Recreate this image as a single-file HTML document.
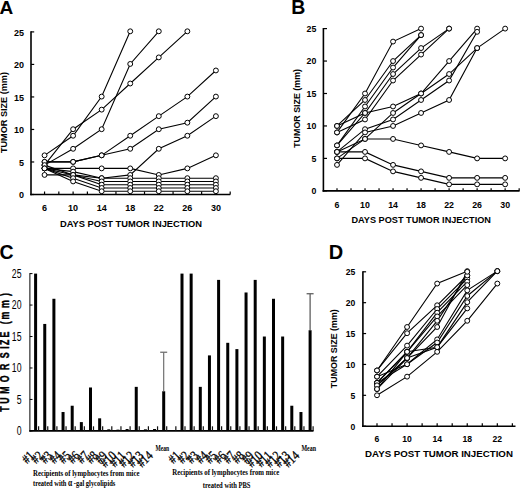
<!DOCTYPE html>
<html><head><meta charset="utf-8"><style>
html,body{margin:0;padding:0;background:#fff;width:520px;height:490px;overflow:hidden;}
svg{display:block;}
</style></head><body>
<svg width="520" height="490" viewBox="0 0 520 490">
<rect width="520" height="490" fill="#fff"/>
<text x="-0.60" y="13.60" font-size="19" text-anchor="start" font-weight="bold" font-family='"Liberation Sans", sans-serif' >A</text>
<text x="291.30" y="13.80" font-size="19.5" text-anchor="start" font-weight="bold" font-family='"Liberation Sans", sans-serif' >B</text>
<text x="-0.60" y="259.40" font-size="19.5" text-anchor="start" font-weight="bold" font-family='"Liberation Sans", sans-serif' >C</text>
<text x="328.70" y="258.90" font-size="20" text-anchor="start" font-weight="bold" font-family='"Liberation Sans", sans-serif' >D</text>
<line x1="31.00" y1="31.30" x2="31.00" y2="195.30" stroke="#000" stroke-width="1.6"/>
<line x1="30.20" y1="194.50" x2="230.30" y2="194.50" stroke="#000" stroke-width="1.6"/>
<line x1="31.00" y1="194.50" x2="34.20" y2="194.50" stroke="#000" stroke-width="1.2"/>
<text x="23.90" y="198.34" font-size="9" text-anchor="end" font-weight="bold" font-family='"Liberation Sans", sans-serif' >0</text>
<line x1="31.00" y1="161.98" x2="34.20" y2="161.98" stroke="#000" stroke-width="1.2"/>
<text x="23.90" y="165.82" font-size="9" text-anchor="end" font-weight="bold" font-family='"Liberation Sans", sans-serif' >5</text>
<line x1="31.00" y1="129.46" x2="34.20" y2="129.46" stroke="#000" stroke-width="1.2"/>
<text x="23.90" y="133.30" font-size="9" text-anchor="end" font-weight="bold" font-family='"Liberation Sans", sans-serif' >10</text>
<line x1="31.00" y1="96.94" x2="34.20" y2="96.94" stroke="#000" stroke-width="1.2"/>
<text x="23.90" y="100.78" font-size="9" text-anchor="end" font-weight="bold" font-family='"Liberation Sans", sans-serif' >15</text>
<line x1="31.00" y1="64.42" x2="34.20" y2="64.42" stroke="#000" stroke-width="1.2"/>
<text x="23.90" y="68.26" font-size="9" text-anchor="end" font-weight="bold" font-family='"Liberation Sans", sans-serif' >20</text>
<line x1="31.00" y1="31.90" x2="34.20" y2="31.90" stroke="#000" stroke-width="1.2"/>
<text x="23.90" y="35.74" font-size="9" text-anchor="end" font-weight="bold" font-family='"Liberation Sans", sans-serif' >25</text>
<line x1="44.55" y1="194.50" x2="44.55" y2="191.50" stroke="#000" stroke-width="1.2"/>
<line x1="58.83" y1="194.50" x2="58.83" y2="191.50" stroke="#000" stroke-width="1.2"/>
<line x1="73.11" y1="194.50" x2="73.11" y2="191.50" stroke="#000" stroke-width="1.2"/>
<line x1="87.39" y1="194.50" x2="87.39" y2="191.50" stroke="#000" stroke-width="1.2"/>
<line x1="101.67" y1="194.50" x2="101.67" y2="191.50" stroke="#000" stroke-width="1.2"/>
<line x1="115.95" y1="194.50" x2="115.95" y2="191.50" stroke="#000" stroke-width="1.2"/>
<line x1="130.23" y1="194.50" x2="130.23" y2="191.50" stroke="#000" stroke-width="1.2"/>
<line x1="144.51" y1="194.50" x2="144.51" y2="191.50" stroke="#000" stroke-width="1.2"/>
<line x1="158.79" y1="194.50" x2="158.79" y2="191.50" stroke="#000" stroke-width="1.2"/>
<line x1="173.07" y1="194.50" x2="173.07" y2="191.50" stroke="#000" stroke-width="1.2"/>
<line x1="187.35" y1="194.50" x2="187.35" y2="191.50" stroke="#000" stroke-width="1.2"/>
<line x1="201.63" y1="194.50" x2="201.63" y2="191.50" stroke="#000" stroke-width="1.2"/>
<line x1="215.91" y1="194.50" x2="215.91" y2="191.50" stroke="#000" stroke-width="1.2"/>
<line x1="230.19" y1="194.50" x2="230.19" y2="191.50" stroke="#000" stroke-width="1.2"/>
<text x="44.55" y="211.40" font-size="9" text-anchor="middle" font-weight="bold" font-family='"Liberation Sans", sans-serif' >6</text>
<text x="73.11" y="211.40" font-size="9" text-anchor="middle" font-weight="bold" font-family='"Liberation Sans", sans-serif' >10</text>
<text x="101.67" y="211.40" font-size="9" text-anchor="middle" font-weight="bold" font-family='"Liberation Sans", sans-serif' >14</text>
<text x="130.23" y="211.40" font-size="9" text-anchor="middle" font-weight="bold" font-family='"Liberation Sans", sans-serif' >18</text>
<text x="158.79" y="211.40" font-size="9" text-anchor="middle" font-weight="bold" font-family='"Liberation Sans", sans-serif' >22</text>
<text x="187.35" y="211.40" font-size="9" text-anchor="middle" font-weight="bold" font-family='"Liberation Sans", sans-serif' >26</text>
<text x="215.91" y="211.40" font-size="9" text-anchor="middle" font-weight="bold" font-family='"Liberation Sans", sans-serif' >30</text>
<text x="59.90" y="227.40" font-size="9.8" font-weight="bold" font-family='"Liberation Sans", sans-serif' textLength="142.2" lengthAdjust="spacingAndGlyphs">DAYS POST TUMOR INJECTION</text>
<text transform="translate(7.00,112.55) rotate(-90)" font-size="9.15" text-anchor="middle" font-weight="bold" font-family='"Liberation Sans", sans-serif'>TUMOR SIZE (mm)</text>
<polyline fill="none" stroke="#000" stroke-width="1.1" points="44.55,165.12 73.11,129.22 101.67,109.64 130.23,83.52 158.79,57.41 187.35,31.30"/>
<polyline fill="none" stroke="#000" stroke-width="1.1" points="44.55,155.33 73.11,135.75 101.67,96.58 130.23,31.30"/>
<polyline fill="none" stroke="#000" stroke-width="1.1" points="44.55,165.12 73.11,148.80 101.67,129.22 130.23,63.94 158.79,31.30"/>
<polyline fill="none" stroke="#000" stroke-width="1.1" points="44.55,161.86 73.11,161.86 101.67,155.33 130.23,135.75 158.79,116.16 187.35,96.58 215.91,70.47"/>
<polyline fill="none" stroke="#000" stroke-width="1.1" points="44.55,161.86 73.11,161.86 101.67,155.33 130.23,148.80 158.79,129.22 187.35,122.69 215.91,96.58"/>
<polyline fill="none" stroke="#000" stroke-width="1.1" points="44.55,168.39 73.11,168.39 101.67,168.39 130.23,168.39 158.79,174.92 187.35,168.39 215.91,155.33"/>
<polyline fill="none" stroke="#000" stroke-width="1.1" points="44.55,168.39 73.11,174.92 101.67,178.18 130.23,174.92 158.79,148.80 187.35,135.75 215.91,116.16"/>
<polyline fill="none" stroke="#000" stroke-width="1.1" points="44.55,168.39 73.11,171.65 101.67,178.18 130.23,178.18 158.79,178.18 187.35,178.18 215.91,178.18"/>
<polyline fill="none" stroke="#000" stroke-width="1.1" points="44.55,165.12 73.11,174.92 101.67,181.44 130.23,181.44 158.79,181.44 187.35,181.44 215.91,181.44"/>
<polyline fill="none" stroke="#000" stroke-width="1.1" points="44.55,174.92 73.11,174.92 101.67,184.71 130.23,184.71 158.79,184.71 187.35,184.71 215.91,184.71"/>
<polyline fill="none" stroke="#000" stroke-width="1.1" points="44.55,168.39 73.11,178.18 101.67,187.97 130.23,187.97 158.79,187.97 187.35,187.97 215.91,187.97"/>
<polyline fill="none" stroke="#000" stroke-width="1.1" points="44.55,168.39 73.11,181.44 101.67,191.24 130.23,191.24 158.79,191.24 187.35,191.24 215.91,191.24"/>
<circle cx="44.55" cy="165.12" r="2.45" fill="#fff" stroke="#000" stroke-width="1"/>
<circle cx="73.11" cy="129.22" r="2.45" fill="#fff" stroke="#000" stroke-width="1"/>
<circle cx="101.67" cy="109.64" r="2.45" fill="#fff" stroke="#000" stroke-width="1"/>
<circle cx="130.23" cy="83.52" r="2.45" fill="#fff" stroke="#000" stroke-width="1"/>
<circle cx="158.79" cy="57.41" r="2.45" fill="#fff" stroke="#000" stroke-width="1"/>
<circle cx="187.35" cy="31.30" r="2.45" fill="#fff" stroke="#000" stroke-width="1"/>
<circle cx="44.55" cy="155.33" r="2.45" fill="#fff" stroke="#000" stroke-width="1"/>
<circle cx="73.11" cy="135.75" r="2.45" fill="#fff" stroke="#000" stroke-width="1"/>
<circle cx="101.67" cy="96.58" r="2.45" fill="#fff" stroke="#000" stroke-width="1"/>
<circle cx="130.23" cy="31.30" r="2.45" fill="#fff" stroke="#000" stroke-width="1"/>
<circle cx="44.55" cy="165.12" r="2.45" fill="#fff" stroke="#000" stroke-width="1"/>
<circle cx="73.11" cy="148.80" r="2.45" fill="#fff" stroke="#000" stroke-width="1"/>
<circle cx="101.67" cy="129.22" r="2.45" fill="#fff" stroke="#000" stroke-width="1"/>
<circle cx="130.23" cy="63.94" r="2.45" fill="#fff" stroke="#000" stroke-width="1"/>
<circle cx="158.79" cy="31.30" r="2.45" fill="#fff" stroke="#000" stroke-width="1"/>
<circle cx="44.55" cy="161.86" r="2.45" fill="#fff" stroke="#000" stroke-width="1"/>
<circle cx="73.11" cy="161.86" r="2.45" fill="#fff" stroke="#000" stroke-width="1"/>
<circle cx="101.67" cy="155.33" r="2.45" fill="#fff" stroke="#000" stroke-width="1"/>
<circle cx="130.23" cy="135.75" r="2.45" fill="#fff" stroke="#000" stroke-width="1"/>
<circle cx="158.79" cy="116.16" r="2.45" fill="#fff" stroke="#000" stroke-width="1"/>
<circle cx="187.35" cy="96.58" r="2.45" fill="#fff" stroke="#000" stroke-width="1"/>
<circle cx="215.91" cy="70.47" r="2.45" fill="#fff" stroke="#000" stroke-width="1"/>
<circle cx="44.55" cy="161.86" r="2.45" fill="#fff" stroke="#000" stroke-width="1"/>
<circle cx="73.11" cy="161.86" r="2.45" fill="#fff" stroke="#000" stroke-width="1"/>
<circle cx="101.67" cy="155.33" r="2.45" fill="#fff" stroke="#000" stroke-width="1"/>
<circle cx="130.23" cy="148.80" r="2.45" fill="#fff" stroke="#000" stroke-width="1"/>
<circle cx="158.79" cy="129.22" r="2.45" fill="#fff" stroke="#000" stroke-width="1"/>
<circle cx="187.35" cy="122.69" r="2.45" fill="#fff" stroke="#000" stroke-width="1"/>
<circle cx="215.91" cy="96.58" r="2.45" fill="#fff" stroke="#000" stroke-width="1"/>
<circle cx="44.55" cy="168.39" r="2.45" fill="#fff" stroke="#000" stroke-width="1"/>
<circle cx="73.11" cy="168.39" r="2.45" fill="#fff" stroke="#000" stroke-width="1"/>
<circle cx="101.67" cy="168.39" r="2.45" fill="#fff" stroke="#000" stroke-width="1"/>
<circle cx="130.23" cy="168.39" r="2.45" fill="#fff" stroke="#000" stroke-width="1"/>
<circle cx="158.79" cy="174.92" r="2.45" fill="#fff" stroke="#000" stroke-width="1"/>
<circle cx="187.35" cy="168.39" r="2.45" fill="#fff" stroke="#000" stroke-width="1"/>
<circle cx="215.91" cy="155.33" r="2.45" fill="#fff" stroke="#000" stroke-width="1"/>
<circle cx="44.55" cy="168.39" r="2.45" fill="#fff" stroke="#000" stroke-width="1"/>
<circle cx="73.11" cy="174.92" r="2.45" fill="#fff" stroke="#000" stroke-width="1"/>
<circle cx="101.67" cy="178.18" r="2.45" fill="#fff" stroke="#000" stroke-width="1"/>
<circle cx="130.23" cy="174.92" r="2.45" fill="#fff" stroke="#000" stroke-width="1"/>
<circle cx="158.79" cy="148.80" r="2.45" fill="#fff" stroke="#000" stroke-width="1"/>
<circle cx="187.35" cy="135.75" r="2.45" fill="#fff" stroke="#000" stroke-width="1"/>
<circle cx="215.91" cy="116.16" r="2.45" fill="#fff" stroke="#000" stroke-width="1"/>
<circle cx="44.55" cy="168.39" r="2.45" fill="#fff" stroke="#000" stroke-width="1"/>
<circle cx="73.11" cy="171.65" r="2.45" fill="#fff" stroke="#000" stroke-width="1"/>
<circle cx="101.67" cy="178.18" r="2.45" fill="#fff" stroke="#000" stroke-width="1"/>
<circle cx="130.23" cy="178.18" r="2.45" fill="#fff" stroke="#000" stroke-width="1"/>
<circle cx="158.79" cy="178.18" r="2.45" fill="#fff" stroke="#000" stroke-width="1"/>
<circle cx="187.35" cy="178.18" r="2.45" fill="#fff" stroke="#000" stroke-width="1"/>
<circle cx="215.91" cy="178.18" r="2.45" fill="#fff" stroke="#000" stroke-width="1"/>
<circle cx="44.55" cy="165.12" r="2.45" fill="#fff" stroke="#000" stroke-width="1"/>
<circle cx="73.11" cy="174.92" r="2.45" fill="#fff" stroke="#000" stroke-width="1"/>
<circle cx="101.67" cy="181.44" r="2.45" fill="#fff" stroke="#000" stroke-width="1"/>
<circle cx="130.23" cy="181.44" r="2.45" fill="#fff" stroke="#000" stroke-width="1"/>
<circle cx="158.79" cy="181.44" r="2.45" fill="#fff" stroke="#000" stroke-width="1"/>
<circle cx="187.35" cy="181.44" r="2.45" fill="#fff" stroke="#000" stroke-width="1"/>
<circle cx="215.91" cy="181.44" r="2.45" fill="#fff" stroke="#000" stroke-width="1"/>
<circle cx="44.55" cy="174.92" r="2.45" fill="#fff" stroke="#000" stroke-width="1"/>
<circle cx="73.11" cy="174.92" r="2.45" fill="#fff" stroke="#000" stroke-width="1"/>
<circle cx="101.67" cy="184.71" r="2.45" fill="#fff" stroke="#000" stroke-width="1"/>
<circle cx="130.23" cy="184.71" r="2.45" fill="#fff" stroke="#000" stroke-width="1"/>
<circle cx="158.79" cy="184.71" r="2.45" fill="#fff" stroke="#000" stroke-width="1"/>
<circle cx="187.35" cy="184.71" r="2.45" fill="#fff" stroke="#000" stroke-width="1"/>
<circle cx="215.91" cy="184.71" r="2.45" fill="#fff" stroke="#000" stroke-width="1"/>
<circle cx="44.55" cy="168.39" r="2.45" fill="#fff" stroke="#000" stroke-width="1"/>
<circle cx="73.11" cy="178.18" r="2.45" fill="#fff" stroke="#000" stroke-width="1"/>
<circle cx="101.67" cy="187.97" r="2.45" fill="#fff" stroke="#000" stroke-width="1"/>
<circle cx="130.23" cy="187.97" r="2.45" fill="#fff" stroke="#000" stroke-width="1"/>
<circle cx="158.79" cy="187.97" r="2.45" fill="#fff" stroke="#000" stroke-width="1"/>
<circle cx="187.35" cy="187.97" r="2.45" fill="#fff" stroke="#000" stroke-width="1"/>
<circle cx="215.91" cy="187.97" r="2.45" fill="#fff" stroke="#000" stroke-width="1"/>
<circle cx="44.55" cy="168.39" r="2.45" fill="#fff" stroke="#000" stroke-width="1"/>
<circle cx="73.11" cy="181.44" r="2.45" fill="#fff" stroke="#000" stroke-width="1"/>
<circle cx="101.67" cy="191.24" r="2.45" fill="#fff" stroke="#000" stroke-width="1"/>
<circle cx="130.23" cy="191.24" r="2.45" fill="#fff" stroke="#000" stroke-width="1"/>
<circle cx="158.79" cy="191.24" r="2.45" fill="#fff" stroke="#000" stroke-width="1"/>
<circle cx="187.35" cy="191.24" r="2.45" fill="#fff" stroke="#000" stroke-width="1"/>
<circle cx="215.91" cy="191.24" r="2.45" fill="#fff" stroke="#000" stroke-width="1"/>
<line x1="323.40" y1="28.00" x2="323.40" y2="191.65" stroke="#000" stroke-width="1.6"/>
<line x1="322.60" y1="190.85" x2="519.60" y2="190.85" stroke="#000" stroke-width="1.6"/>
<line x1="323.40" y1="190.85" x2="327.00" y2="190.85" stroke="#000" stroke-width="1.2"/>
<text x="316.30" y="194.02" font-size="8.8" text-anchor="end" font-weight="bold" font-family='"Liberation Sans", sans-serif' >0</text>
<line x1="323.40" y1="158.40" x2="327.00" y2="158.40" stroke="#000" stroke-width="1.2"/>
<text x="316.30" y="161.57" font-size="8.8" text-anchor="end" font-weight="bold" font-family='"Liberation Sans", sans-serif' >5</text>
<line x1="323.40" y1="125.95" x2="327.00" y2="125.95" stroke="#000" stroke-width="1.2"/>
<text x="316.30" y="129.12" font-size="8.8" text-anchor="end" font-weight="bold" font-family='"Liberation Sans", sans-serif' >10</text>
<line x1="323.40" y1="93.50" x2="327.00" y2="93.50" stroke="#000" stroke-width="1.2"/>
<text x="316.30" y="96.67" font-size="8.8" text-anchor="end" font-weight="bold" font-family='"Liberation Sans", sans-serif' >15</text>
<line x1="323.40" y1="61.05" x2="327.00" y2="61.05" stroke="#000" stroke-width="1.2"/>
<text x="316.30" y="64.22" font-size="8.8" text-anchor="end" font-weight="bold" font-family='"Liberation Sans", sans-serif' >20</text>
<line x1="323.40" y1="28.60" x2="327.00" y2="28.60" stroke="#000" stroke-width="1.2"/>
<text x="316.30" y="31.77" font-size="8.8" text-anchor="end" font-weight="bold" font-family='"Liberation Sans", sans-serif' >25</text>
<line x1="337.00" y1="190.85" x2="337.00" y2="188.25" stroke="#000" stroke-width="1.2"/>
<line x1="351.01" y1="190.85" x2="351.01" y2="188.25" stroke="#000" stroke-width="1.2"/>
<line x1="365.02" y1="190.85" x2="365.02" y2="188.25" stroke="#000" stroke-width="1.2"/>
<line x1="379.04" y1="190.85" x2="379.04" y2="188.25" stroke="#000" stroke-width="1.2"/>
<line x1="393.05" y1="190.85" x2="393.05" y2="188.25" stroke="#000" stroke-width="1.2"/>
<line x1="407.06" y1="190.85" x2="407.06" y2="188.25" stroke="#000" stroke-width="1.2"/>
<line x1="421.07" y1="190.85" x2="421.07" y2="188.25" stroke="#000" stroke-width="1.2"/>
<line x1="435.08" y1="190.85" x2="435.08" y2="188.25" stroke="#000" stroke-width="1.2"/>
<line x1="449.10" y1="190.85" x2="449.10" y2="188.25" stroke="#000" stroke-width="1.2"/>
<line x1="463.11" y1="190.85" x2="463.11" y2="188.25" stroke="#000" stroke-width="1.2"/>
<line x1="477.12" y1="190.85" x2="477.12" y2="188.25" stroke="#000" stroke-width="1.2"/>
<line x1="491.13" y1="190.85" x2="491.13" y2="188.25" stroke="#000" stroke-width="1.2"/>
<line x1="505.14" y1="190.85" x2="505.14" y2="188.25" stroke="#000" stroke-width="1.2"/>
<line x1="519.16" y1="190.85" x2="519.16" y2="188.25" stroke="#000" stroke-width="1.2"/>
<text x="337.00" y="208.00" font-size="8.8" text-anchor="middle" font-weight="bold" font-family='"Liberation Sans", sans-serif' >6</text>
<text x="365.02" y="208.00" font-size="8.8" text-anchor="middle" font-weight="bold" font-family='"Liberation Sans", sans-serif' >10</text>
<text x="393.05" y="208.00" font-size="8.8" text-anchor="middle" font-weight="bold" font-family='"Liberation Sans", sans-serif' >14</text>
<text x="421.07" y="208.00" font-size="8.8" text-anchor="middle" font-weight="bold" font-family='"Liberation Sans", sans-serif' >18</text>
<text x="449.10" y="208.00" font-size="8.8" text-anchor="middle" font-weight="bold" font-family='"Liberation Sans", sans-serif' >22</text>
<text x="477.12" y="208.00" font-size="8.8" text-anchor="middle" font-weight="bold" font-family='"Liberation Sans", sans-serif' >26</text>
<text x="505.14" y="208.00" font-size="8.8" text-anchor="middle" font-weight="bold" font-family='"Liberation Sans", sans-serif' >30</text>
<text x="351.50" y="222.90" font-size="9.8" font-weight="bold" font-family='"Liberation Sans", sans-serif' textLength="139.4" lengthAdjust="spacingAndGlyphs">DAYS POST TUMOR INJECTION</text>
<text transform="translate(299.60,108.40) rotate(-90)" font-size="8.9" text-anchor="middle" font-weight="bold" font-family='"Liberation Sans", sans-serif'>TUMOR SIZE (mm)</text>
<polyline fill="none" stroke="#000" stroke-width="1.1" points="337.00,132.44 365.02,93.50 393.05,41.58 421.07,28.60"/>
<polyline fill="none" stroke="#000" stroke-width="1.1" points="337.00,125.95 365.02,99.99 393.05,61.05 421.07,35.09"/>
<polyline fill="none" stroke="#000" stroke-width="1.1" points="337.00,145.42 365.02,106.48 393.05,67.54 421.07,35.09"/>
<polyline fill="none" stroke="#000" stroke-width="1.1" points="337.00,132.44 365.02,119.46 393.05,80.52 421.07,54.56 449.10,28.60"/>
<polyline fill="none" stroke="#000" stroke-width="1.1" points="337.00,125.95 365.02,112.97 393.05,74.03 421.07,48.07 449.10,28.60"/>
<polyline fill="none" stroke="#000" stroke-width="1.1" points="337.00,145.42 365.02,112.97 393.05,106.48 421.07,93.50 449.10,61.05 477.12,28.60"/>
<polyline fill="none" stroke="#000" stroke-width="1.1" points="337.00,158.40 365.02,138.93 393.05,112.97 421.07,93.50 449.10,74.03 477.12,48.07 505.14,28.60"/>
<polyline fill="none" stroke="#000" stroke-width="1.1" points="337.00,151.91 365.02,129.19 393.05,119.46 421.07,99.99 449.10,80.52 477.12,31.84"/>
<polyline fill="none" stroke="#000" stroke-width="1.1" points="337.00,164.89 365.02,132.44 393.05,125.95 421.07,112.97 449.10,99.99 477.12,48.07"/>
<polyline fill="none" stroke="#000" stroke-width="1.1" points="337.00,151.91 365.02,138.93 393.05,138.93 421.07,145.42 449.10,151.91 477.12,158.40 505.14,158.40"/>
<polyline fill="none" stroke="#000" stroke-width="1.1" points="337.00,151.91 365.02,151.91 393.05,164.89 421.07,171.38 449.10,177.87 477.12,177.87 505.14,177.87"/>
<polyline fill="none" stroke="#000" stroke-width="1.1" points="337.00,158.40 365.02,158.40 393.05,171.38 421.07,177.87 449.10,184.36 477.12,184.36 505.14,184.36"/>
<circle cx="337.00" cy="132.44" r="2.45" fill="#fff" stroke="#000" stroke-width="1"/>
<circle cx="365.02" cy="93.50" r="2.45" fill="#fff" stroke="#000" stroke-width="1"/>
<circle cx="393.05" cy="41.58" r="2.45" fill="#fff" stroke="#000" stroke-width="1"/>
<circle cx="421.07" cy="28.60" r="2.45" fill="#fff" stroke="#000" stroke-width="1"/>
<circle cx="337.00" cy="125.95" r="2.45" fill="#fff" stroke="#000" stroke-width="1"/>
<circle cx="365.02" cy="99.99" r="2.45" fill="#fff" stroke="#000" stroke-width="1"/>
<circle cx="393.05" cy="61.05" r="2.45" fill="#fff" stroke="#000" stroke-width="1"/>
<circle cx="421.07" cy="35.09" r="2.45" fill="#fff" stroke="#000" stroke-width="1"/>
<circle cx="337.00" cy="145.42" r="2.45" fill="#fff" stroke="#000" stroke-width="1"/>
<circle cx="365.02" cy="106.48" r="2.45" fill="#fff" stroke="#000" stroke-width="1"/>
<circle cx="393.05" cy="67.54" r="2.45" fill="#fff" stroke="#000" stroke-width="1"/>
<circle cx="421.07" cy="35.09" r="2.45" fill="#fff" stroke="#000" stroke-width="1"/>
<circle cx="337.00" cy="132.44" r="2.45" fill="#fff" stroke="#000" stroke-width="1"/>
<circle cx="365.02" cy="119.46" r="2.45" fill="#fff" stroke="#000" stroke-width="1"/>
<circle cx="393.05" cy="80.52" r="2.45" fill="#fff" stroke="#000" stroke-width="1"/>
<circle cx="421.07" cy="54.56" r="2.45" fill="#fff" stroke="#000" stroke-width="1"/>
<circle cx="449.10" cy="28.60" r="2.45" fill="#fff" stroke="#000" stroke-width="1"/>
<circle cx="337.00" cy="125.95" r="2.45" fill="#fff" stroke="#000" stroke-width="1"/>
<circle cx="365.02" cy="112.97" r="2.45" fill="#fff" stroke="#000" stroke-width="1"/>
<circle cx="393.05" cy="74.03" r="2.45" fill="#fff" stroke="#000" stroke-width="1"/>
<circle cx="421.07" cy="48.07" r="2.45" fill="#fff" stroke="#000" stroke-width="1"/>
<circle cx="449.10" cy="28.60" r="2.45" fill="#fff" stroke="#000" stroke-width="1"/>
<circle cx="337.00" cy="145.42" r="2.45" fill="#fff" stroke="#000" stroke-width="1"/>
<circle cx="365.02" cy="112.97" r="2.45" fill="#fff" stroke="#000" stroke-width="1"/>
<circle cx="393.05" cy="106.48" r="2.45" fill="#fff" stroke="#000" stroke-width="1"/>
<circle cx="421.07" cy="93.50" r="2.45" fill="#fff" stroke="#000" stroke-width="1"/>
<circle cx="449.10" cy="61.05" r="2.45" fill="#fff" stroke="#000" stroke-width="1"/>
<circle cx="477.12" cy="28.60" r="2.45" fill="#fff" stroke="#000" stroke-width="1"/>
<circle cx="337.00" cy="158.40" r="2.45" fill="#fff" stroke="#000" stroke-width="1"/>
<circle cx="365.02" cy="138.93" r="2.45" fill="#fff" stroke="#000" stroke-width="1"/>
<circle cx="393.05" cy="112.97" r="2.45" fill="#fff" stroke="#000" stroke-width="1"/>
<circle cx="421.07" cy="93.50" r="2.45" fill="#fff" stroke="#000" stroke-width="1"/>
<circle cx="449.10" cy="74.03" r="2.45" fill="#fff" stroke="#000" stroke-width="1"/>
<circle cx="477.12" cy="48.07" r="2.45" fill="#fff" stroke="#000" stroke-width="1"/>
<circle cx="505.14" cy="28.60" r="2.45" fill="#fff" stroke="#000" stroke-width="1"/>
<circle cx="337.00" cy="151.91" r="2.45" fill="#fff" stroke="#000" stroke-width="1"/>
<circle cx="365.02" cy="129.19" r="2.45" fill="#fff" stroke="#000" stroke-width="1"/>
<circle cx="393.05" cy="119.46" r="2.45" fill="#fff" stroke="#000" stroke-width="1"/>
<circle cx="421.07" cy="99.99" r="2.45" fill="#fff" stroke="#000" stroke-width="1"/>
<circle cx="449.10" cy="80.52" r="2.45" fill="#fff" stroke="#000" stroke-width="1"/>
<circle cx="477.12" cy="31.84" r="2.45" fill="#fff" stroke="#000" stroke-width="1"/>
<circle cx="337.00" cy="164.89" r="2.45" fill="#fff" stroke="#000" stroke-width="1"/>
<circle cx="365.02" cy="132.44" r="2.45" fill="#fff" stroke="#000" stroke-width="1"/>
<circle cx="393.05" cy="125.95" r="2.45" fill="#fff" stroke="#000" stroke-width="1"/>
<circle cx="421.07" cy="112.97" r="2.45" fill="#fff" stroke="#000" stroke-width="1"/>
<circle cx="449.10" cy="99.99" r="2.45" fill="#fff" stroke="#000" stroke-width="1"/>
<circle cx="477.12" cy="48.07" r="2.45" fill="#fff" stroke="#000" stroke-width="1"/>
<circle cx="337.00" cy="151.91" r="2.45" fill="#fff" stroke="#000" stroke-width="1"/>
<circle cx="365.02" cy="138.93" r="2.45" fill="#fff" stroke="#000" stroke-width="1"/>
<circle cx="393.05" cy="138.93" r="2.45" fill="#fff" stroke="#000" stroke-width="1"/>
<circle cx="421.07" cy="145.42" r="2.45" fill="#fff" stroke="#000" stroke-width="1"/>
<circle cx="449.10" cy="151.91" r="2.45" fill="#fff" stroke="#000" stroke-width="1"/>
<circle cx="477.12" cy="158.40" r="2.45" fill="#fff" stroke="#000" stroke-width="1"/>
<circle cx="505.14" cy="158.40" r="2.45" fill="#fff" stroke="#000" stroke-width="1"/>
<circle cx="337.00" cy="151.91" r="2.45" fill="#fff" stroke="#000" stroke-width="1"/>
<circle cx="365.02" cy="151.91" r="2.45" fill="#fff" stroke="#000" stroke-width="1"/>
<circle cx="393.05" cy="164.89" r="2.45" fill="#fff" stroke="#000" stroke-width="1"/>
<circle cx="421.07" cy="171.38" r="2.45" fill="#fff" stroke="#000" stroke-width="1"/>
<circle cx="449.10" cy="177.87" r="2.45" fill="#fff" stroke="#000" stroke-width="1"/>
<circle cx="477.12" cy="177.87" r="2.45" fill="#fff" stroke="#000" stroke-width="1"/>
<circle cx="505.14" cy="177.87" r="2.45" fill="#fff" stroke="#000" stroke-width="1"/>
<circle cx="337.00" cy="158.40" r="2.45" fill="#fff" stroke="#000" stroke-width="1"/>
<circle cx="365.02" cy="158.40" r="2.45" fill="#fff" stroke="#000" stroke-width="1"/>
<circle cx="393.05" cy="171.38" r="2.45" fill="#fff" stroke="#000" stroke-width="1"/>
<circle cx="421.07" cy="177.87" r="2.45" fill="#fff" stroke="#000" stroke-width="1"/>
<circle cx="449.10" cy="184.36" r="2.45" fill="#fff" stroke="#000" stroke-width="1"/>
<circle cx="477.12" cy="184.36" r="2.45" fill="#fff" stroke="#000" stroke-width="1"/>
<circle cx="505.14" cy="184.36" r="2.45" fill="#fff" stroke="#000" stroke-width="1"/>
<line x1="362.90" y1="271.20" x2="362.90" y2="427.10" stroke="#000" stroke-width="1.6"/>
<line x1="362.10" y1="426.30" x2="515.50" y2="426.30" stroke="#000" stroke-width="1.6"/>
<line x1="362.90" y1="426.20" x2="366.10" y2="426.20" stroke="#000" stroke-width="1.2"/>
<text x="355.20" y="429.70" font-size="8.6" text-anchor="end" font-weight="bold" font-family='"Liberation Sans", sans-serif' >0</text>
<line x1="362.90" y1="395.32" x2="366.10" y2="395.32" stroke="#000" stroke-width="1.2"/>
<text x="355.20" y="398.82" font-size="8.6" text-anchor="end" font-weight="bold" font-family='"Liberation Sans", sans-serif' >5</text>
<line x1="362.90" y1="364.44" x2="366.10" y2="364.44" stroke="#000" stroke-width="1.2"/>
<text x="355.20" y="367.94" font-size="8.6" text-anchor="end" font-weight="bold" font-family='"Liberation Sans", sans-serif' >10</text>
<line x1="362.90" y1="333.56" x2="366.10" y2="333.56" stroke="#000" stroke-width="1.2"/>
<text x="355.20" y="337.06" font-size="8.6" text-anchor="end" font-weight="bold" font-family='"Liberation Sans", sans-serif' >15</text>
<line x1="362.90" y1="302.68" x2="366.10" y2="302.68" stroke="#000" stroke-width="1.2"/>
<text x="355.20" y="306.18" font-size="8.6" text-anchor="end" font-weight="bold" font-family='"Liberation Sans", sans-serif' >20</text>
<line x1="362.90" y1="271.80" x2="366.10" y2="271.80" stroke="#000" stroke-width="1.2"/>
<text x="355.20" y="275.30" font-size="8.6" text-anchor="end" font-weight="bold" font-family='"Liberation Sans", sans-serif' >25</text>
<line x1="377.00" y1="426.30" x2="377.00" y2="423.30" stroke="#000" stroke-width="1.2"/>
<line x1="392.04" y1="426.30" x2="392.04" y2="423.30" stroke="#000" stroke-width="1.2"/>
<line x1="407.08" y1="426.30" x2="407.08" y2="423.30" stroke="#000" stroke-width="1.2"/>
<line x1="422.12" y1="426.30" x2="422.12" y2="423.30" stroke="#000" stroke-width="1.2"/>
<line x1="437.16" y1="426.30" x2="437.16" y2="423.30" stroke="#000" stroke-width="1.2"/>
<line x1="452.20" y1="426.30" x2="452.20" y2="423.30" stroke="#000" stroke-width="1.2"/>
<line x1="467.24" y1="426.30" x2="467.24" y2="423.30" stroke="#000" stroke-width="1.2"/>
<line x1="482.28" y1="426.30" x2="482.28" y2="423.30" stroke="#000" stroke-width="1.2"/>
<line x1="497.32" y1="426.30" x2="497.32" y2="423.30" stroke="#000" stroke-width="1.2"/>
<line x1="512.36" y1="426.30" x2="512.36" y2="423.30" stroke="#000" stroke-width="1.2"/>
<text x="377.00" y="442.40" font-size="8.6" text-anchor="middle" font-weight="bold" font-family='"Liberation Sans", sans-serif' >6</text>
<text x="407.08" y="442.40" font-size="8.6" text-anchor="middle" font-weight="bold" font-family='"Liberation Sans", sans-serif' >10</text>
<text x="437.16" y="442.40" font-size="8.6" text-anchor="middle" font-weight="bold" font-family='"Liberation Sans", sans-serif' >14</text>
<text x="467.24" y="442.40" font-size="8.6" text-anchor="middle" font-weight="bold" font-family='"Liberation Sans", sans-serif' >18</text>
<text x="497.32" y="442.40" font-size="8.6" text-anchor="middle" font-weight="bold" font-family='"Liberation Sans", sans-serif' >22</text>
<text x="365.10" y="457.40" font-size="9.5" font-weight="bold" font-family='"Liberation Sans", sans-serif' textLength="147.8" lengthAdjust="spacingAndGlyphs">DAYS POST TUMOR INJECTION</text>
<text transform="translate(336.80,348.70) rotate(-90)" font-size="8.9" text-anchor="middle" font-weight="bold" font-family='"Liberation Sans", sans-serif'>TUMOR SIZE (mm)</text>
<polyline fill="none" stroke="#000" stroke-width="1.1" points="377.00,370.45 407.08,327.00 437.16,283.56 467.24,271.15"/>
<polyline fill="none" stroke="#000" stroke-width="1.1" points="377.00,370.45 407.08,333.21 437.16,305.28 467.24,275.49"/>
<polyline fill="none" stroke="#000" stroke-width="1.1" points="377.00,376.65 407.08,345.62 437.16,309.01 467.24,278.60"/>
<polyline fill="none" stroke="#000" stroke-width="1.1" points="377.00,382.86 407.08,351.83 437.16,312.73 467.24,281.70"/>
<polyline fill="none" stroke="#000" stroke-width="1.1" points="377.00,382.86 407.08,351.83 437.16,316.45 467.24,285.11"/>
<polyline fill="none" stroke="#000" stroke-width="1.1" points="377.00,385.34 407.08,358.03 437.16,320.80 467.24,275.49"/>
<polyline fill="none" stroke="#000" stroke-width="1.1" points="377.00,389.06 407.08,358.03 437.16,327.00 467.24,271.77"/>
<polyline fill="none" stroke="#000" stroke-width="1.1" points="377.00,376.65 407.08,364.24 437.16,339.42 467.24,290.39 497.32,271.15"/>
<polyline fill="none" stroke="#000" stroke-width="1.1" points="377.00,382.86 407.08,364.24 437.16,342.52 467.24,295.97 497.32,271.15"/>
<polyline fill="none" stroke="#000" stroke-width="1.1" points="377.00,385.34 407.08,358.03 437.16,347.17 467.24,302.18 497.32,271.15"/>
<polyline fill="none" stroke="#000" stroke-width="1.1" points="377.00,395.27 407.08,376.65 437.16,351.83 467.24,320.80 497.32,283.56"/>
<polyline fill="none" stroke="#000" stroke-width="1.1" points="377.00,389.06 407.08,351.83 437.16,347.17 467.24,308.39"/>
<circle cx="377.00" cy="370.45" r="2.45" fill="#fff" stroke="#000" stroke-width="1"/>
<circle cx="407.08" cy="327.00" r="2.45" fill="#fff" stroke="#000" stroke-width="1"/>
<circle cx="437.16" cy="283.56" r="2.45" fill="#fff" stroke="#000" stroke-width="1"/>
<circle cx="467.24" cy="271.15" r="2.45" fill="#fff" stroke="#000" stroke-width="1"/>
<circle cx="377.00" cy="370.45" r="2.45" fill="#fff" stroke="#000" stroke-width="1"/>
<circle cx="407.08" cy="333.21" r="2.45" fill="#fff" stroke="#000" stroke-width="1"/>
<circle cx="437.16" cy="305.28" r="2.45" fill="#fff" stroke="#000" stroke-width="1"/>
<circle cx="467.24" cy="275.49" r="2.45" fill="#fff" stroke="#000" stroke-width="1"/>
<circle cx="377.00" cy="376.65" r="2.45" fill="#fff" stroke="#000" stroke-width="1"/>
<circle cx="407.08" cy="345.62" r="2.45" fill="#fff" stroke="#000" stroke-width="1"/>
<circle cx="437.16" cy="309.01" r="2.45" fill="#fff" stroke="#000" stroke-width="1"/>
<circle cx="467.24" cy="278.60" r="2.45" fill="#fff" stroke="#000" stroke-width="1"/>
<circle cx="377.00" cy="382.86" r="2.45" fill="#fff" stroke="#000" stroke-width="1"/>
<circle cx="407.08" cy="351.83" r="2.45" fill="#fff" stroke="#000" stroke-width="1"/>
<circle cx="437.16" cy="312.73" r="2.45" fill="#fff" stroke="#000" stroke-width="1"/>
<circle cx="467.24" cy="281.70" r="2.45" fill="#fff" stroke="#000" stroke-width="1"/>
<circle cx="377.00" cy="382.86" r="2.45" fill="#fff" stroke="#000" stroke-width="1"/>
<circle cx="407.08" cy="351.83" r="2.45" fill="#fff" stroke="#000" stroke-width="1"/>
<circle cx="437.16" cy="316.45" r="2.45" fill="#fff" stroke="#000" stroke-width="1"/>
<circle cx="467.24" cy="285.11" r="2.45" fill="#fff" stroke="#000" stroke-width="1"/>
<circle cx="377.00" cy="385.34" r="2.45" fill="#fff" stroke="#000" stroke-width="1"/>
<circle cx="407.08" cy="358.03" r="2.45" fill="#fff" stroke="#000" stroke-width="1"/>
<circle cx="437.16" cy="320.80" r="2.45" fill="#fff" stroke="#000" stroke-width="1"/>
<circle cx="467.24" cy="275.49" r="2.45" fill="#fff" stroke="#000" stroke-width="1"/>
<circle cx="377.00" cy="389.06" r="2.45" fill="#fff" stroke="#000" stroke-width="1"/>
<circle cx="407.08" cy="358.03" r="2.45" fill="#fff" stroke="#000" stroke-width="1"/>
<circle cx="437.16" cy="327.00" r="2.45" fill="#fff" stroke="#000" stroke-width="1"/>
<circle cx="467.24" cy="271.77" r="2.45" fill="#fff" stroke="#000" stroke-width="1"/>
<circle cx="377.00" cy="376.65" r="2.45" fill="#fff" stroke="#000" stroke-width="1"/>
<circle cx="407.08" cy="364.24" r="2.45" fill="#fff" stroke="#000" stroke-width="1"/>
<circle cx="437.16" cy="339.42" r="2.45" fill="#fff" stroke="#000" stroke-width="1"/>
<circle cx="467.24" cy="290.39" r="2.45" fill="#fff" stroke="#000" stroke-width="1"/>
<circle cx="497.32" cy="271.15" r="2.45" fill="#fff" stroke="#000" stroke-width="1"/>
<circle cx="377.00" cy="382.86" r="2.45" fill="#fff" stroke="#000" stroke-width="1"/>
<circle cx="407.08" cy="364.24" r="2.45" fill="#fff" stroke="#000" stroke-width="1"/>
<circle cx="437.16" cy="342.52" r="2.45" fill="#fff" stroke="#000" stroke-width="1"/>
<circle cx="467.24" cy="295.97" r="2.45" fill="#fff" stroke="#000" stroke-width="1"/>
<circle cx="497.32" cy="271.15" r="2.45" fill="#fff" stroke="#000" stroke-width="1"/>
<circle cx="377.00" cy="385.34" r="2.45" fill="#fff" stroke="#000" stroke-width="1"/>
<circle cx="407.08" cy="358.03" r="2.45" fill="#fff" stroke="#000" stroke-width="1"/>
<circle cx="437.16" cy="347.17" r="2.45" fill="#fff" stroke="#000" stroke-width="1"/>
<circle cx="467.24" cy="302.18" r="2.45" fill="#fff" stroke="#000" stroke-width="1"/>
<circle cx="497.32" cy="271.15" r="2.45" fill="#fff" stroke="#000" stroke-width="1"/>
<circle cx="377.00" cy="395.27" r="2.45" fill="#fff" stroke="#000" stroke-width="1"/>
<circle cx="407.08" cy="376.65" r="2.45" fill="#fff" stroke="#000" stroke-width="1"/>
<circle cx="437.16" cy="351.83" r="2.45" fill="#fff" stroke="#000" stroke-width="1"/>
<circle cx="467.24" cy="320.80" r="2.45" fill="#fff" stroke="#000" stroke-width="1"/>
<circle cx="497.32" cy="283.56" r="2.45" fill="#fff" stroke="#000" stroke-width="1"/>
<circle cx="377.00" cy="389.06" r="2.45" fill="#fff" stroke="#000" stroke-width="1"/>
<circle cx="407.08" cy="351.83" r="2.45" fill="#fff" stroke="#000" stroke-width="1"/>
<circle cx="437.16" cy="347.17" r="2.45" fill="#fff" stroke="#000" stroke-width="1"/>
<circle cx="467.24" cy="308.39" r="2.45" fill="#fff" stroke="#000" stroke-width="1"/>
<line x1="29.90" y1="273.10" x2="29.90" y2="431.70" stroke="#000" stroke-width="1.0"/>
<line x1="29.40" y1="430.90" x2="313.50" y2="430.90" stroke="#000" stroke-width="1.6"/>
<line x1="29.90" y1="430.90" x2="32.50" y2="430.90" stroke="#000" stroke-width="1.0"/>
<text transform="translate(21.5,435.20) scale(0.66,1)" font-size="13.2" text-anchor="end" font-family='"Liberation Sans", sans-serif'>0</text>
<line x1="29.90" y1="399.44" x2="32.50" y2="399.44" stroke="#000" stroke-width="1.0"/>
<text transform="translate(21.5,403.74) scale(0.66,1)" font-size="13.2" text-anchor="end" font-family='"Liberation Sans", sans-serif'>5</text>
<line x1="29.90" y1="367.98" x2="32.50" y2="367.98" stroke="#000" stroke-width="1.0"/>
<text transform="translate(21.5,372.28) scale(0.66,1)" font-size="13.2" text-anchor="end" font-family='"Liberation Sans", sans-serif'>10</text>
<line x1="29.90" y1="336.52" x2="32.50" y2="336.52" stroke="#000" stroke-width="1.0"/>
<text transform="translate(21.5,340.82) scale(0.66,1)" font-size="13.2" text-anchor="end" font-family='"Liberation Sans", sans-serif'>15</text>
<line x1="29.90" y1="305.06" x2="32.50" y2="305.06" stroke="#000" stroke-width="1.0"/>
<text transform="translate(21.5,309.36) scale(0.66,1)" font-size="13.2" text-anchor="end" font-family='"Liberation Sans", sans-serif'>20</text>
<line x1="29.90" y1="273.60" x2="32.50" y2="273.60" stroke="#000" stroke-width="1.0"/>
<text transform="translate(21.5,277.90) scale(0.66,1)" font-size="13.2" text-anchor="end" font-family='"Liberation Sans", sans-serif'>25</text>
<rect x="34.10" y="273.60" width="3" height="157.30" fill="#000"/>
<rect x="43.25" y="323.94" width="3" height="106.96" fill="#000"/>
<rect x="52.40" y="298.77" width="3" height="132.13" fill="#000"/>
<rect x="61.55" y="412.02" width="3" height="18.88" fill="#000"/>
<rect x="70.70" y="405.73" width="3" height="25.17" fill="#000"/>
<rect x="79.85" y="422.09" width="3" height="8.81" fill="#000"/>
<rect x="89.00" y="387.49" width="3" height="43.41" fill="#000"/>
<rect x="98.15" y="418.32" width="3" height="12.58" fill="#000"/>
<rect x="107.30" y="429.33" width="3" height="1.57" fill="#000"/>
<rect x="116.45" y="429.64" width="3" height="1.26" fill="#000"/>
<rect x="125.60" y="429.01" width="3" height="1.89" fill="#000"/>
<rect x="134.75" y="386.86" width="3" height="44.04" fill="#000"/>
<rect x="143.90" y="429.33" width="3" height="1.57" fill="#000"/>
<rect x="153.05" y="429.01" width="3" height="1.89" fill="#000"/>
<rect x="162.20" y="391.26" width="3" height="39.64" fill="#000"/>
<rect x="180.50" y="273.60" width="3" height="157.30" fill="#000"/>
<rect x="189.65" y="273.60" width="3" height="157.30" fill="#000"/>
<rect x="198.80" y="386.86" width="3" height="44.04" fill="#000"/>
<rect x="207.95" y="355.40" width="3" height="75.50" fill="#000"/>
<rect x="217.10" y="279.89" width="3" height="151.01" fill="#000"/>
<rect x="226.25" y="342.81" width="3" height="88.09" fill="#000"/>
<rect x="235.40" y="349.10" width="3" height="81.80" fill="#000"/>
<rect x="244.55" y="292.48" width="3" height="138.42" fill="#000"/>
<rect x="253.70" y="279.89" width="3" height="151.01" fill="#000"/>
<rect x="262.85" y="336.52" width="3" height="94.38" fill="#000"/>
<rect x="272.00" y="298.77" width="3" height="132.13" fill="#000"/>
<rect x="281.15" y="336.52" width="3" height="94.38" fill="#000"/>
<rect x="290.30" y="405.73" width="3" height="25.17" fill="#000"/>
<rect x="299.45" y="412.02" width="3" height="18.88" fill="#000"/>
<rect x="308.60" y="330.23" width="3" height="100.67" fill="#000"/>
<line x1="38.60" y1="430.90" x2="38.60" y2="426.30" stroke="#111" stroke-width="1.2"/>
<line x1="47.75" y1="430.90" x2="47.75" y2="426.30" stroke="#111" stroke-width="1.2"/>
<line x1="56.90" y1="430.90" x2="56.90" y2="426.30" stroke="#111" stroke-width="1.2"/>
<line x1="66.05" y1="430.90" x2="66.05" y2="426.30" stroke="#111" stroke-width="1.2"/>
<line x1="75.20" y1="430.90" x2="75.20" y2="426.30" stroke="#111" stroke-width="1.2"/>
<line x1="84.35" y1="430.90" x2="84.35" y2="426.30" stroke="#111" stroke-width="1.2"/>
<line x1="93.50" y1="430.90" x2="93.50" y2="426.30" stroke="#111" stroke-width="1.2"/>
<line x1="102.65" y1="430.90" x2="102.65" y2="426.30" stroke="#111" stroke-width="1.2"/>
<line x1="111.80" y1="430.90" x2="111.80" y2="426.30" stroke="#111" stroke-width="1.2"/>
<line x1="120.95" y1="430.90" x2="120.95" y2="426.30" stroke="#111" stroke-width="1.2"/>
<line x1="130.10" y1="430.90" x2="130.10" y2="426.30" stroke="#111" stroke-width="1.2"/>
<line x1="139.25" y1="430.90" x2="139.25" y2="426.30" stroke="#111" stroke-width="1.2"/>
<line x1="148.40" y1="430.90" x2="148.40" y2="426.30" stroke="#111" stroke-width="1.2"/>
<line x1="157.55" y1="430.90" x2="157.55" y2="426.30" stroke="#111" stroke-width="1.2"/>
<line x1="166.70" y1="430.90" x2="166.70" y2="426.30" stroke="#111" stroke-width="1.2"/>
<line x1="175.85" y1="430.90" x2="175.85" y2="426.30" stroke="#111" stroke-width="1.2"/>
<line x1="185.00" y1="430.90" x2="185.00" y2="426.30" stroke="#111" stroke-width="1.2"/>
<line x1="194.15" y1="430.90" x2="194.15" y2="426.30" stroke="#111" stroke-width="1.2"/>
<line x1="203.30" y1="430.90" x2="203.30" y2="426.30" stroke="#111" stroke-width="1.2"/>
<line x1="212.45" y1="430.90" x2="212.45" y2="426.30" stroke="#111" stroke-width="1.2"/>
<line x1="221.60" y1="430.90" x2="221.60" y2="426.30" stroke="#111" stroke-width="1.2"/>
<line x1="230.75" y1="430.90" x2="230.75" y2="426.30" stroke="#111" stroke-width="1.2"/>
<line x1="239.90" y1="430.90" x2="239.90" y2="426.30" stroke="#111" stroke-width="1.2"/>
<line x1="249.05" y1="430.90" x2="249.05" y2="426.30" stroke="#111" stroke-width="1.2"/>
<line x1="258.20" y1="430.90" x2="258.20" y2="426.30" stroke="#111" stroke-width="1.2"/>
<line x1="267.35" y1="430.90" x2="267.35" y2="426.30" stroke="#111" stroke-width="1.2"/>
<line x1="276.50" y1="430.90" x2="276.50" y2="426.30" stroke="#111" stroke-width="1.2"/>
<line x1="285.65" y1="430.90" x2="285.65" y2="426.30" stroke="#111" stroke-width="1.2"/>
<line x1="294.80" y1="430.90" x2="294.80" y2="426.30" stroke="#111" stroke-width="1.2"/>
<line x1="303.95" y1="430.90" x2="303.95" y2="426.30" stroke="#111" stroke-width="1.2"/>
<line x1="313.10" y1="430.90" x2="313.10" y2="426.30" stroke="#111" stroke-width="1.2"/>
<line x1="163.70" y1="391.26" x2="163.70" y2="352.25" stroke="#6a6a6a" stroke-width="1.15"/>
<line x1="160.20" y1="352.25" x2="167.20" y2="352.25" stroke="#707070" stroke-width="1.3"/>
<line x1="310.10" y1="330.23" x2="310.10" y2="293.73" stroke="#4a4a4a" stroke-width="1.15"/>
<line x1="306.60" y1="293.73" x2="313.60" y2="293.73" stroke="#606060" stroke-width="1.3"/>
<text transform="translate(34.70,456.4) rotate(-45) scale(0.85,1)" font-size="13" text-anchor="end" font-weight="normal" font-family='"Liberation Serif", serif' stroke="#000" stroke-width="0.3">#1</text>
<text transform="translate(43.85,456.4) rotate(-45) scale(0.85,1)" font-size="13" text-anchor="end" font-weight="normal" font-family='"Liberation Serif", serif' stroke="#000" stroke-width="0.3">#2</text>
<text transform="translate(53.00,456.4) rotate(-45) scale(0.85,1)" font-size="13" text-anchor="end" font-weight="normal" font-family='"Liberation Serif", serif' stroke="#000" stroke-width="0.3">#3</text>
<text transform="translate(62.15,456.4) rotate(-45) scale(0.85,1)" font-size="13" text-anchor="end" font-weight="normal" font-family='"Liberation Serif", serif' stroke="#000" stroke-width="0.3">#4</text>
<text transform="translate(71.30,456.4) rotate(-45) scale(0.85,1)" font-size="13" text-anchor="end" font-weight="normal" font-family='"Liberation Serif", serif' stroke="#000" stroke-width="0.3">#5</text>
<text transform="translate(80.45,456.4) rotate(-45) scale(0.85,1)" font-size="13" text-anchor="end" font-weight="normal" font-family='"Liberation Serif", serif' stroke="#000" stroke-width="0.3">#6</text>
<text transform="translate(89.60,456.4) rotate(-45) scale(0.85,1)" font-size="13" text-anchor="end" font-weight="normal" font-family='"Liberation Serif", serif' stroke="#000" stroke-width="0.3">#7</text>
<text transform="translate(98.75,456.4) rotate(-45) scale(0.85,1)" font-size="13" text-anchor="end" font-weight="normal" font-family='"Liberation Serif", serif' stroke="#000" stroke-width="0.3">#8</text>
<text transform="translate(107.90,456.4) rotate(-45) scale(0.85,1)" font-size="13" text-anchor="end" font-weight="normal" font-family='"Liberation Serif", serif' stroke="#000" stroke-width="0.3">#9</text>
<text transform="translate(117.05,456.4) rotate(-45) scale(0.85,1)" font-size="13" text-anchor="end" font-weight="normal" font-family='"Liberation Serif", serif' stroke="#000" stroke-width="0.3">#10</text>
<text transform="translate(126.20,456.4) rotate(-45) scale(0.85,1)" font-size="13" text-anchor="end" font-weight="normal" font-family='"Liberation Serif", serif' stroke="#000" stroke-width="0.3">#11</text>
<text transform="translate(135.35,456.4) rotate(-45) scale(0.85,1)" font-size="13" text-anchor="end" font-weight="normal" font-family='"Liberation Serif", serif' stroke="#000" stroke-width="0.3">#12</text>
<text transform="translate(144.50,456.4) rotate(-45) scale(0.85,1)" font-size="13" text-anchor="end" font-weight="normal" font-family='"Liberation Serif", serif' stroke="#000" stroke-width="0.3">#13</text>
<text transform="translate(153.65,456.4) rotate(-45) scale(0.85,1)" font-size="13" text-anchor="end" font-weight="normal" font-family='"Liberation Serif", serif' stroke="#000" stroke-width="0.3">#14</text>
<text transform="translate(181.10,456.4) rotate(-45) scale(0.85,1)" font-size="13" text-anchor="end" font-weight="normal" font-family='"Liberation Serif", serif' stroke="#000" stroke-width="0.3">#1</text>
<text transform="translate(190.25,456.4) rotate(-45) scale(0.85,1)" font-size="13" text-anchor="end" font-weight="normal" font-family='"Liberation Serif", serif' stroke="#000" stroke-width="0.3">#2</text>
<text transform="translate(199.40,456.4) rotate(-45) scale(0.85,1)" font-size="13" text-anchor="end" font-weight="normal" font-family='"Liberation Serif", serif' stroke="#000" stroke-width="0.3">#3</text>
<text transform="translate(208.55,456.4) rotate(-45) scale(0.85,1)" font-size="13" text-anchor="end" font-weight="normal" font-family='"Liberation Serif", serif' stroke="#000" stroke-width="0.3">#4</text>
<text transform="translate(217.70,456.4) rotate(-45) scale(0.85,1)" font-size="13" text-anchor="end" font-weight="normal" font-family='"Liberation Serif", serif' stroke="#000" stroke-width="0.3">#5</text>
<text transform="translate(226.85,456.4) rotate(-45) scale(0.85,1)" font-size="13" text-anchor="end" font-weight="normal" font-family='"Liberation Serif", serif' stroke="#000" stroke-width="0.3">#6</text>
<text transform="translate(236.00,456.4) rotate(-45) scale(0.85,1)" font-size="13" text-anchor="end" font-weight="normal" font-family='"Liberation Serif", serif' stroke="#000" stroke-width="0.3">#7</text>
<text transform="translate(245.15,456.4) rotate(-45) scale(0.85,1)" font-size="13" text-anchor="end" font-weight="normal" font-family='"Liberation Serif", serif' stroke="#000" stroke-width="0.3">#8</text>
<text transform="translate(254.30,456.4) rotate(-45) scale(0.85,1)" font-size="13" text-anchor="end" font-weight="normal" font-family='"Liberation Serif", serif' stroke="#000" stroke-width="0.3">#9</text>
<text transform="translate(263.45,456.4) rotate(-45) scale(0.85,1)" font-size="13" text-anchor="end" font-weight="normal" font-family='"Liberation Serif", serif' stroke="#000" stroke-width="0.3">#10</text>
<text transform="translate(272.60,456.4) rotate(-45) scale(0.85,1)" font-size="13" text-anchor="end" font-weight="normal" font-family='"Liberation Serif", serif' stroke="#000" stroke-width="0.3">#11</text>
<text transform="translate(281.75,456.4) rotate(-45) scale(0.85,1)" font-size="13" text-anchor="end" font-weight="normal" font-family='"Liberation Serif", serif' stroke="#000" stroke-width="0.3">#12</text>
<text transform="translate(290.90,456.4) rotate(-45) scale(0.85,1)" font-size="13" text-anchor="end" font-weight="normal" font-family='"Liberation Serif", serif' stroke="#000" stroke-width="0.3">#13</text>
<text transform="translate(300.05,456.4) rotate(-45) scale(0.85,1)" font-size="13" text-anchor="end" font-weight="normal" font-family='"Liberation Serif", serif' stroke="#000" stroke-width="0.3">#14</text>
<text x="155.4" y="450.6" font-size="7.2" font-weight="bold" font-family='"Liberation Serif", serif' textLength="13.8" lengthAdjust="spacingAndGlyphs">Mean</text>
<text x="301.4" y="451.4" font-size="7.2" font-weight="bold" font-family='"Liberation Serif", serif' textLength="14.6" lengthAdjust="spacingAndGlyphs">Mean</text>
<text x="33.0" y="475.8" font-size="9" font-weight="bold" font-family='"Liberation Serif", serif' textLength="106.5" lengthAdjust="spacingAndGlyphs">Recipients of lymphocytes from mice</text>
<text x="33.0" y="485.5" font-size="9" font-weight="bold" font-family='"Liberation Serif", serif' textLength="82.3" lengthAdjust="spacingAndGlyphs">treated with <tspan font-size="10.5">&#945;</tspan> -gal glycolipids</text>
<text x="172.3" y="475.2" font-size="9.2" font-weight="bold" font-family='"Liberation Serif", serif' textLength="107" lengthAdjust="spacingAndGlyphs">Recipients of lymphocytes from mice</text>
<text x="202.8" y="487.6" font-size="9.2" font-weight="bold" font-family='"Liberation Serif", serif' textLength="47.7" lengthAdjust="spacingAndGlyphs">treated with PBS</text>
<text transform="translate(9.3,294.50) rotate(-90) scale(0.65,1)" font-size="13.5" text-anchor="middle" font-weight="bold" font-family='"Liberation Sans", sans-serif' stroke="#000" stroke-width="0.45">)</text>
<text transform="translate(9.3,304.10) rotate(-90) scale(0.65,1)" font-size="13.5" text-anchor="middle" font-weight="bold" font-family='"Liberation Sans", sans-serif' stroke="#000" stroke-width="0.45">m</text>
<text transform="translate(9.3,315.60) rotate(-90) scale(0.65,1)" font-size="13.5" text-anchor="middle" font-weight="bold" font-family='"Liberation Sans", sans-serif' stroke="#000" stroke-width="0.45">m</text>
<text transform="translate(9.3,322.80) rotate(-90) scale(0.65,1)" font-size="13.5" text-anchor="middle" font-weight="bold" font-family='"Liberation Sans", sans-serif' stroke="#000" stroke-width="0.45">(</text>
<text transform="translate(9.3,334.60) rotate(-90) scale(0.65,1)" font-size="13.5" text-anchor="middle" font-weight="bold" font-family='"Liberation Sans", sans-serif' stroke="#000" stroke-width="0.45">E</text>
<text transform="translate(9.3,342.40) rotate(-90) scale(0.65,1)" font-size="13.5" text-anchor="middle" font-weight="bold" font-family='"Liberation Sans", sans-serif' stroke="#000" stroke-width="0.45">Z</text>
<text transform="translate(9.3,347.50) rotate(-90) scale(0.65,1)" font-size="13.5" text-anchor="middle" font-weight="bold" font-family='"Liberation Sans", sans-serif' stroke="#000" stroke-width="0.45">I</text>
<text transform="translate(9.3,355.30) rotate(-90) scale(0.65,1)" font-size="13.5" text-anchor="middle" font-weight="bold" font-family='"Liberation Sans", sans-serif' stroke="#000" stroke-width="0.45">S</text>
<text transform="translate(9.3,366.80) rotate(-90) scale(0.65,1)" font-size="13.5" text-anchor="middle" font-weight="bold" font-family='"Liberation Sans", sans-serif' stroke="#000" stroke-width="0.45">R</text>
<text transform="translate(9.3,378.90) rotate(-90) scale(0.65,1)" font-size="13.5" text-anchor="middle" font-weight="bold" font-family='"Liberation Sans", sans-serif' stroke="#000" stroke-width="0.45">O</text>
<text transform="translate(9.3,390.00) rotate(-90) scale(0.65,1)" font-size="13.5" text-anchor="middle" font-weight="bold" font-family='"Liberation Sans", sans-serif' stroke="#000" stroke-width="0.45">M</text>
<text transform="translate(9.3,400.50) rotate(-90) scale(0.65,1)" font-size="13.5" text-anchor="middle" font-weight="bold" font-family='"Liberation Sans", sans-serif' stroke="#000" stroke-width="0.45">U</text>
<text transform="translate(9.3,409.00) rotate(-90) scale(0.65,1)" font-size="13.5" text-anchor="middle" font-weight="bold" font-family='"Liberation Sans", sans-serif' stroke="#000" stroke-width="0.45">T</text>
</svg>
</body></html>
